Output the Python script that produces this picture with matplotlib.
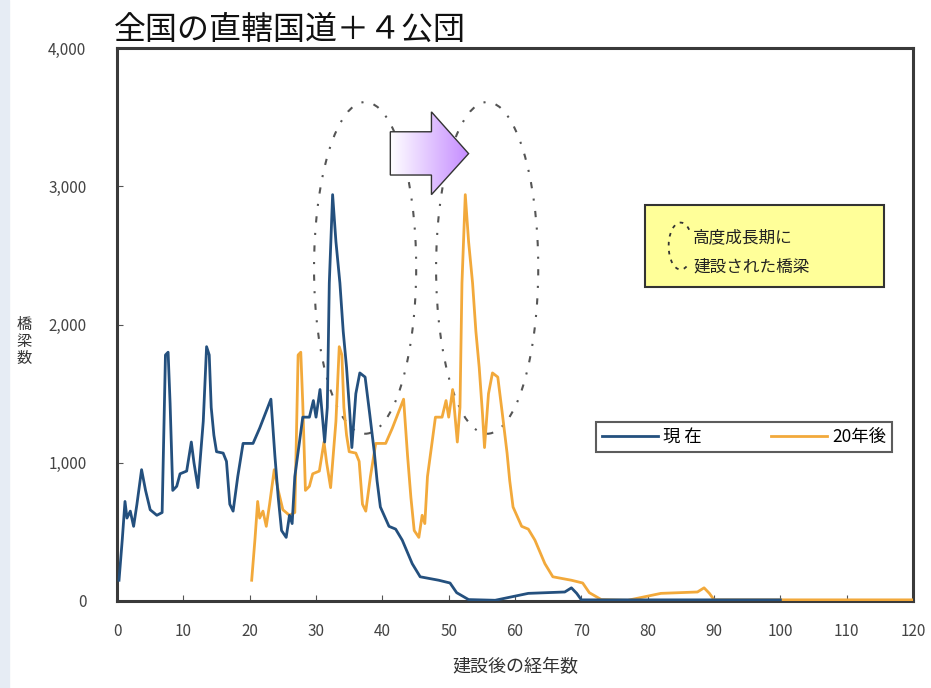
import numpy as np
import matplotlib
matplotlib.use("Agg")
import matplotlib.pyplot as plt
from matplotlib.patches import Ellipse, Polygon, Rectangle, Arc

plt.rcParams['font.family'] = ['Noto Sans CJK JP', 'DejaVu Sans']

# age of bridges now (years) and number of bridges
ages_now = [0.3, 0.8, 1.2, 1.5, 2.0, 2.5, 3.0, 3.7, 4.3, 5.0, 6.0, 6.8, 7.3, 7.7,
            8.0, 8.4, 9.0, 9.5, 10.5, 11.2, 11.6, 12.2, 13.0, 13.5, 13.9, 14.2,
            14.6, 15.0, 16.0, 16.5, 17.0, 17.5, 18.2, 19.0, 20.5, 21.5, 23.2,
            23.8, 24.3, 24.8, 25.5, 26.0, 26.4, 26.8, 27.5, 28.0, 29.0, 29.6,
            30.0, 30.6, 31.3, 31.7, 32.0, 32.5, 33.0, 33.6, 34.1, 34.6, 35.1,
            35.4, 36.0, 36.6, 37.4, 38.1, 38.8, 39.2, 39.7, 41.0, 42.0, 43.0,
            44.5, 45.7, 48.5, 50.2, 51.2, 53.0, 57.0, 58.5, 62.0, 67.5, 68.5,
            69.3, 70.0, 98.0, 100.0]
bridges = [150, 450, 720, 600, 650, 540, 700, 950, 800, 660, 620, 640, 1780, 1800,
           1430, 800, 830, 920, 940, 1150, 1000, 820, 1300, 1840, 1780, 1400,
           1200, 1080, 1070, 1010, 700, 650, 900, 1140, 1140, 1250, 1460,
           1050, 750, 510, 460, 620, 560, 900, 1150, 1330, 1330, 1450,
           1330, 1530, 1150, 1400, 2300, 2940, 2600, 2300, 1950, 1690, 1350,
           1110, 1500, 1650, 1620, 1350, 1070, 870, 680, 540, 520, 440,
           270, 175, 150, 130, 60, 10, 5, 20, 55, 65, 95,
           55, 8, 8, 8]
shift_years = 20  # same bridges, 20 years older

x_ticks = list(range(0, 121, 10))
y_ticks = [0, 1000, 2000, 3000, 4000]
y_tick_labels = ['0', '1,000', '2,000', '3,000', '4,000']

blue = '#24507e'
orange = '#f2a93b'
frame = '#3a3a3a'

fig = plt.figure(figsize=(9.31, 6.88), dpi=100)
fig.patches.append(Rectangle((0, 0), 0.01, 1, transform=fig.transFigure,
                             color='#e6ecf4', zorder=0))
ax = fig.add_axes([0.1257, 0.1265, 0.855, 0.8035])

ages_later = np.array(ages_now) + shift_years
ax.plot(ages_later, bridges, color=orange, lw=2.0, label='20年後', zorder=3)
ax.plot(ages_now, bridges, color=blue, lw=2.0, label='現 在', zorder=4)

ax.set_xlim(0, 120)
ax.set_ylim(0, 4000)
ax.set_xticks(x_ticks)
ax.set_yticks(y_ticks)
ax.set_yticklabels(y_tick_labels)
ax.tick_params(direction='in', length=4, color='#555555', labelsize=11,
               labelcolor='#444444')
ax.tick_params(axis='x', pad=16)
ax.tick_params(axis='y', pad=22)
for s in ax.spines.values():
    s.set_color(frame)
    s.set_linewidth(2.2)

# dashed ellipses around the high-growth-era bridges
for cx in (37.4, 55.8):
    ax.add_patch(Ellipse((cx, 2410), 15.4, 2400, fill=False, ec='#555555',
                         lw=1.5, ls=(0, (3, 5, 1, 5)), zorder=2))

# gradient block arrow
arrow_pts = [(41.2, 3082), (41.2, 3395), (47.4, 3395), (47.4, 3539),
             (53.0, 3237), (47.4, 2940), (47.4, 3082)]
arrow = Polygon(arrow_pts, closed=True, fc='none', ec='#333333', lw=1.0, zorder=6)
ax.add_patch(arrow)
grad = np.linspace(0, 1, 256).reshape(1, -1)
cmap = matplotlib.colors.LinearSegmentedColormap.from_list('pw', ['#ffffff', '#c58cff'])
im = ax.imshow(grad, extent=[41.2, 53.0, 2940, 3539], aspect='auto', cmap=cmap,
               zorder=5)
im.set_clip_path(arrow)
ax.set_xlim(0, 120)
ax.set_ylim(0, 4000)

# yellow note box
ax.add_patch(Rectangle((0.663, 0.568), 0.300, 0.148, transform=ax.transAxes,
                       fc='#ffff99', ec='#333333', lw=1.5, zorder=6))
ax.add_patch(Arc((0.708, 0.642), 0.03, 0.085, theta1=70, theta2=290,
                 transform=ax.transAxes, ec='#333333', lw=1.3,
                 ls=(0, (2, 3)), zorder=7))
ax.text(0.724, 0.657, '高度成長期に', transform=ax.transAxes, fontsize=12,
        va='center', ha='left', color='#222222', zorder=7)
ax.text(0.724, 0.604, '建設された橋梁', transform=ax.transAxes, fontsize=12,
        va='center', ha='left', color='#222222', zorder=7)

handles, labels = ax.get_legend_handles_labels()
leg = ax.legend(handles[::-1], labels[::-1], ncol=2, loc='center',
                bbox_to_anchor=(0.788, 0.297), fontsize=12.5, frameon=True,
                fancybox=False, edgecolor='#333333', handlelength=3.2,
                columnspacing=4.0, borderpad=0.35, handletextpad=0.3)
leg.get_frame().set_linewidth(1.5)
leg.set_zorder(8)

fig.text(0.122, 0.957, '全国の直轄国道＋４公団', fontsize=23, ha='left',
         va='center', color='#111111')
ax.set_xlabel('建設後の経年数', fontsize=13, color='#333333', labelpad=13)
fig.text(0.026, 0.503, '橋\n梁\n数', fontsize=11, ha='center', va='center',
         linespacing=1.0, color='#333333')

fig.savefig('out.png', dpi=100)
